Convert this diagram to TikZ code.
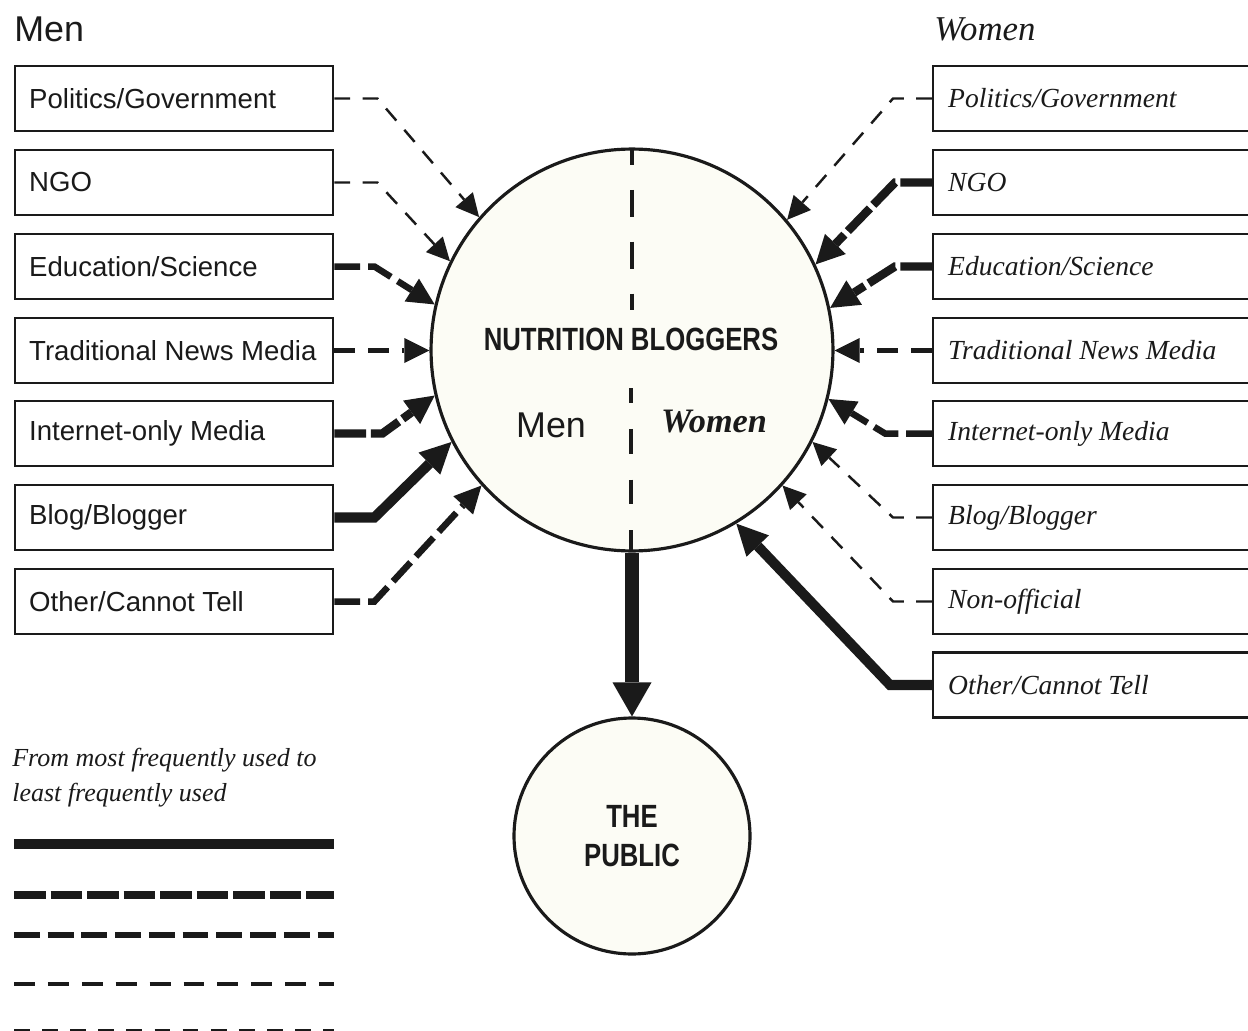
\documentclass[tikz,border=0pt]{standalone}
\usepackage{fontspec}
\usepackage{graphicx}
\setmainfont{Liberation Serif}
\setsansfont{Liberation Sans}
\usetikzlibrary{arrows.meta}
\definecolor{ink}{HTML}{1A1A1A}
\definecolor{cream}{HTML}{FCFCF5}
\newcommand{\mlab}[1]{\makebox[5.8cm][l]{#1}}
\newcommand{\wlab}[1]{\makebox[7cm][l]{#1}}
\begin{document}
\begin{tikzpicture}[x=0.02cm,y=-0.02cm,
  every node/.style={text=ink},
  mbox/.style={draw=ink, line width=1.4pt, rectangle, anchor=west,
    minimum height=1.3cm, inner xsep=0.28cm, inner ysep=0pt,
    font=\sffamily\fontsize{15.7}{18}\selectfont},
  wbox/.style={draw=ink, line width=1.4pt, rectangle, anchor=west,
    minimum height=1.3cm, inner xsep=0.3cm, inner ysep=0pt,
    font=\rmfamily\itshape\fontsize{15.7}{18}\selectfont},
  l1/.style={draw=ink, line width=5.7pt},
  l2/.style={draw=ink, line width=4.8pt, dash pattern=on 18pt off 2.8pt},
  l3/.style={draw=ink, line width=3.7pt, dash pattern=on 14.7pt off 4.5pt},
  l4/.style={draw=ink, line width=2.8pt, dash pattern=on 11.9pt off 7.4pt},
  l5/.style={draw=ink, line width=1.4pt, dash pattern=on 9pt off 7pt},
  a1/.style={-{Triangle[length=0.62cm,width=0.62cm,line width=0pt]}},
  a2/.style={-{Triangle[length=0.57cm,width=0.58cm,line width=0pt]}},
  a3/.style={-{Triangle[length=0.54cm,width=0.54cm,line width=0pt]}},
  a4/.style={-{Triangle[length=0.5cm,width=0.5cm,line width=0pt]}},
  a5/.style={-{Triangle[length=0.46cm,width=0.46cm,line width=0pt]}},
  title/.style={anchor=base west, inner sep=0pt},
  bigcircle/.style={circle, draw=ink, line width=1.8pt, fill=cream, inner sep=0pt},
  cond/.style={font=\sffamily\bfseries\fontsize{18.3}{21}\selectfont, inner sep=0pt}
]
\clip (0,0) rectangle (1248,1031);
\fill[white] (0,0) rectangle (1248,1031);

% titles
\node[title, font=\sffamily\fontsize{20.4}{24}\selectfont] (tmen) at (14,41) {Men};
\node[title, font=\rmfamily\itshape\fontsize{19.8}{24}\selectfont] (twomen) at (934,40) {Women};

% main circle
\node[bigcircle, minimum size=8.04cm] (nb) at (632,350) {};
\draw[ink, line width=2.8pt, dash pattern=on 15.3pt off 14.2pt, dash phase=6.8pt] (632,150) -- (632,310);
\draw[ink, line width=2.8pt, dash pattern=on 14.2pt off 14.7pt, dash phase=5.7pt] (631,388) -- (631,550);
\node[cond, anchor=base] (nbt) at (631,350) {\scalebox{0.8}[1]{NUTRITION BLOGGERS}};
\node[font=\sffamily\fontsize{20.4}{24}\selectfont, anchor=base, inner sep=0pt] (cmen) at (551,437) {Men};
\node[font=\rmfamily\bfseries\itshape\fontsize{19.5}{22}\selectfont, anchor=base, inner sep=0pt] (cwomen) at (714,432) {Women};

% public circle
\node[bigcircle, minimum size=4.72cm, cond, align=center] (pub) at (632,836)
  {\scalebox{0.8}[1]{THE}\\[1pt]\scalebox{0.8}[1]{PUBLIC}};
\draw[ink, line width=8pt, -{Triangle[length=0.68cm,width=0.78cm,line width=0pt]}] (nb.south) -- (pub.north);

% men boxes
\node[mbox] (m1) at (14,98.5) {\mlab{Politics/Government}};
\node[mbox] (m2) at (14,182.5) {\mlab{NGO}};
\node[mbox] (m3) at (14,266.5) {\mlab{Education/Science}};
\node[mbox] (m4) at (14,350.5) {\mlab{Traditional News Media}};
\node[mbox] (m5) at (14,433.5) {\mlab{Internet-only Media}};
\node[mbox] (m6) at (14,517.5) {\mlab{Blog/Blogger}};
\node[mbox] (m7) at (14,601.5) {\mlab{Other/Cannot Tell}};

% women boxes
\node[wbox] (w1) at (932,98.5) {\wlab{Politics/Government}};
\node[wbox] (w2) at (932,182.5) {\wlab{NGO}};
\node[wbox] (w3) at (932,266.5) {\wlab{Education/Science}};
\node[wbox] (w4) at (932,350.5) {\wlab{Traditional News Media}};
\node[wbox] (w5) at (932,433.5) {\wlab{Internet-only Media}};
\node[wbox] (w6) at (932,517.5) {\wlab{Blog/Blogger}};
\node[wbox] (w7) at (932,601.5) {\wlab{Non-official}};
\node[wbox] (w8) at (932,685) {\wlab{Other/Cannot Tell}};

% men connectors
\draw[l5,a5] (m1.east) -- ++(43,0) -- (nb.139.4);
\draw[l5,a5] (m2.east) -- ++(43,0) -- (nb.154.2);
\draw[l3,a3] (m3.east) -- ++(40,0) -- (nb.167.7);
\draw[l4,a4] (m4.east) -- (m4.east -| nb.west);
\draw[l2,a2] (m5.east) -- ++(48,0) -- (nb.193.2);
\draw[l1,a1] (m6.east) -- ++(40,0) -- (nb.207);
\draw[l3,a3] (m7.east) -- ++(40,0) -- (nb.222.2);

% women connectors
\draw[l5,a5] (w1.west) -- ++(-39,0) -- (nb.40.4);
\draw[l2,a2] (w2.west) -- ++(-37,0) -- (nb.25.4);
\draw[l2,a2] (w3.west) -- ++(-37,0) -- (nb.12.3);
\draw[l4,a4] (w4.west) -- (w4.west -| nb.east);
\draw[l3,a3] (w5.west) -- ++(-47,0) -- (nb.346.8);
\draw[l5,a5] (w6.west) -- ++(-39,0) -- (nb.333.3);
\draw[l5,a5] (w7.west) -- ++(-39,0) -- (nb.318);
\draw[l1,a1] (w8.west) -- ++(-42,0) -- (nb.301);

% legend
\node[anchor=north west, inner sep=0pt, align=left,
  font=\rmfamily\itshape\fontsize{14.8}{20}\selectfont] (leg) at (12,748)
  {From most frequently used to\\least frequently used};
\coordinate (g1a) at (14,844);    \coordinate (g1b) at (334,844);
\coordinate (g2a) at (14,895);    \coordinate (g2b) at (334,895);
\coordinate (g3a) at (14,935);    \coordinate (g3b) at (334,935);
\coordinate (g4a) at (14,984);    \coordinate (g4b) at (334,984);
\coordinate (g5a) at (14,1031.5); \coordinate (g5b) at (334,1031.5);
\draw[l1] (g1a) -- (g1b);
\draw[l2] (g2a) -- (g2b);
\draw[l3] (g3a) -- (g3b);
\draw[l4] (g4a) -- (g4b);
\draw[l5, line width=2.3pt] (g5a) -- (g5b);
\end{tikzpicture}
\end{document}
